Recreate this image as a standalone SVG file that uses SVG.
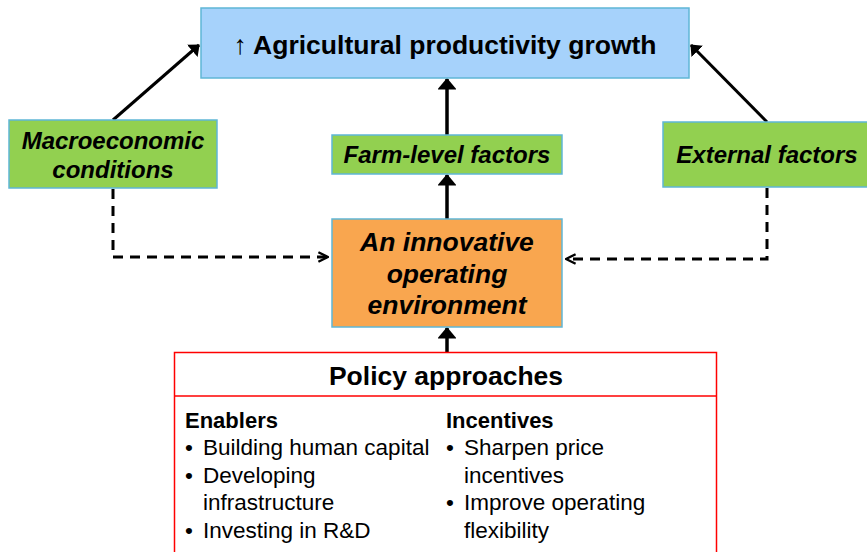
<svg xmlns="http://www.w3.org/2000/svg" width="867" height="552" viewBox="0 0 867 552">
<style>
.box{stroke:#5fb6d6;stroke-width:1.5}
.t{font-family:"Liberation Sans",Arial,sans-serif;fill:#000}
.bi{font-weight:bold;font-style:italic;font-size:24px}
.b{font-weight:bold}
.solid{stroke:#000;stroke-width:3.5;fill:none}
.dash{stroke:#000;stroke-width:3;fill:none;stroke-dasharray:10,7}
</style>
<defs>
<marker id="ah" viewBox="0 0 6 10" refX="5.5" refY="5" markerWidth="3.3" markerHeight="5.4" markerUnits="strokeWidth" orient="auto">
<path d="M0,0 L6,5 L0,10 z" fill="#000"/>
</marker>
<marker id="oh" viewBox="0 0 10 10" refX="9" refY="5" markerWidth="4" markerHeight="4" markerUnits="strokeWidth" orient="auto">
<path d="M1,1 L9,5 L1,9" fill="none" stroke="#000" stroke-width="2"/>
</marker>
</defs>
<rect width="867" height="552" fill="#fff"/>
<g id="connectors">
<line class="solid" x1="113" y1="120" x2="199" y2="45" marker-end="url(#ah)" style="stroke-width:3"/>
<line class="solid" x1="767" y1="122" x2="691" y2="45" marker-end="url(#ah)" style="stroke-width:3"/>
<line class="solid" x1="447" y1="135" x2="447" y2="79" marker-end="url(#ah)"/>
<line class="solid" x1="447" y1="219" x2="447" y2="175" marker-end="url(#ah)"/>
<line class="solid" x1="447" y1="352" x2="447" y2="328" marker-end="url(#ah)"/>
<polyline class="dash" points="113,189 113,257 328,257" marker-end="url(#oh)"/>
<polyline class="dash" points="767,188 767,259 566,259" marker-end="url(#oh)"/>
</g>
<g id="productivity">
<rect class="box" x="201" y="8" width="488" height="70" fill="#a6d2fb"/>
<text class="t b" x="445" y="54" font-size="26.5" text-anchor="middle"><tspan font-weight="normal" fill="#000">↑</tspan> Agricultural productivity growth</text>
</g>
<g id="macro">
<rect class="box" x="9" y="120" width="208" height="68" fill="#92d050"/>
<text class="t bi" x="113" y="149" text-anchor="middle">Macroeconomic</text>
<text class="t bi" x="113" y="178" text-anchor="middle">conditions</text>
</g>
<g id="farm">
<rect class="box" x="332" y="135" width="230" height="39" fill="#92d050"/>
<text class="t bi" x="447" y="163" text-anchor="middle">Farm-level factors</text>
</g>
<g id="external">
<rect class="box" x="663" y="122" width="210" height="65" fill="#92d050"/>
<text class="t bi" x="767" y="163" text-anchor="middle">External factors</text>
</g>
<g id="environment">
<rect class="box" x="332" y="219" width="230" height="108" fill="#f9a64f"/>
<text class="t bi" x="447" y="251" text-anchor="middle" style="font-size:26.5px">An innovative</text>
<text class="t bi" x="447" y="283" text-anchor="middle" style="font-size:26.5px">operating</text>
<text class="t bi" x="447" y="314" text-anchor="middle" style="font-size:26.5px">environment</text>
</g>
<g id="policy">
<rect x="174.5" y="352.5" width="542" height="210" fill="#fff" stroke="#f00" stroke-width="1.5"/>
<line x1="174.5" y1="396" x2="716.5" y2="396" stroke="#f00" stroke-width="1.5"/>
<text class="t b" x="446" y="385" font-size="26.5" text-anchor="middle">Policy approaches</text>
<g class="t" font-size="22.5">
<text class="b" x="185" y="428" font-size="22">Enablers</text>
<text x="185" y="455">•</text><text x="203" y="455">Building human capital</text>
<text x="185" y="483">•</text><text x="203" y="483">Developing</text>
<text x="203" y="510">infrastructure</text>
<text x="185" y="538">•</text><text x="203" y="538">Investing in R&amp;D</text>
<text class="b" x="446" y="428" font-size="22">Incentives</text>
<text x="446" y="455">•</text><text x="464" y="455">Sharpen price</text>
<text x="464" y="483">incentives</text>
<text x="446" y="510">•</text><text x="464" y="510">Improve operating</text>
<text x="464" y="538">flexibility</text>
</g>
</g>
</svg>
